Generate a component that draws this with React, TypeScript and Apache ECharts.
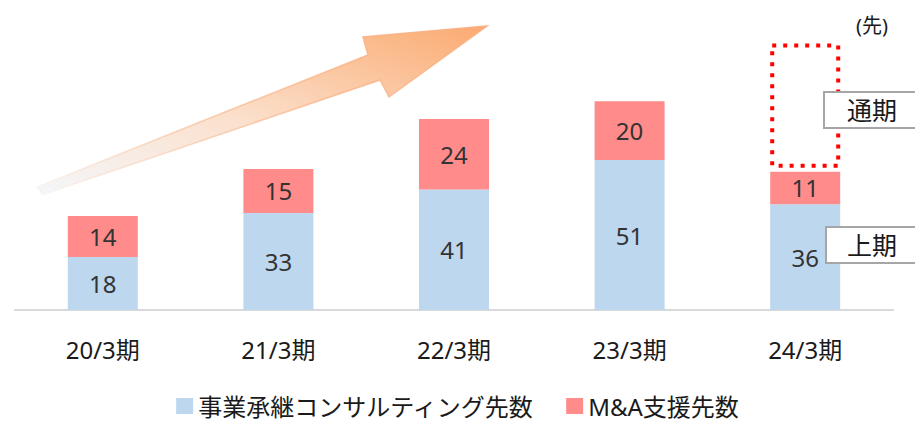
import React, { useEffect, useRef } from "react";
import * as echarts from "echarts";

const categories = ["20/3期", "21/3期", "22/3期", "23/3期", "24/3期"];
const consultingCounts = [18, 33, 41, 51, 36];
const maCounts = [14, 15, 24, 20, 11];
const fullYearForecast: (number | null)[] = [null, null, null, null, 90];
const seriesNames = ["事業承継コンサルティング先数", "M&A支援先数"];
const unitLabel = "(先)";
const fullYearLabel = "通期";
const firstHalfLabel = "上期";

const FONT = "'Noto Sans', 'Noto Sans CJK JP', sans-serif";

export default function App() {
  const ref = useRef<HTMLDivElement>(null);
  useEffect(() => {
    document.body.style.margin = "0";
    if (!ref.current) return;
    const chart = echarts.init(ref.current, undefined, { renderer: "svg" });
    const totals = consultingCounts.map((v, i) => v + maCounts[i]);
    const boxData = fullYearForecast
      .map((v, i) => (v == null ? null : [i, v, totals[i]]))
      .filter((d) => d !== null);

    chart.setOption({
      animation: false,
      textStyle: { fontFamily: FONT },
      grid: { left: 15, right: 22, top: 16, bottom: 115 },
      xAxis: {
        type: "category",
        data: categories,
        axisLine: { lineStyle: { color: "#D9D9D9", width: 2 } },
        axisTick: { show: false },
        axisLabel: { color: "#1a1a1a", fontSize: 24, margin: 27, fontFamily: FONT },
      },
      yAxis: {
        type: "value",
        min: 0,
        max: 100,
        show: false,
        splitLine: { show: false },
      },
      legend: {
        data: seriesNames,
        bottom: 2,
        left: "center",
        icon: "rect",
        itemWidth: 17,
        itemHeight: 16,
        itemGap: 32,
        textStyle: { fontSize: 24, color: "#1a1a1a", fontFamily: FONT },
      },
      series: [
        {
          name: seriesNames[0],
          type: "bar",
          stack: "total",
          data: consultingCounts,
          barWidth: 70,
          itemStyle: { color: "#BDD7EE" },
          label: { show: true, position: "inside", fontSize: 24, color: "#333", fontFamily: FONT },
        },
        {
          name: seriesNames[1],
          type: "bar",
          stack: "total",
          data: maCounts,
          barWidth: 70,
          itemStyle: { color: "#FF8B8B" },
          label: { show: true, position: "inside", fontSize: 24, color: "#333", fontFamily: FONT },
        },
        {
          name: "forecast",
          type: "custom",
          data: boxData,
          z: 5,
          renderItem: (params: any, api: any) => {
            const idx = api.value(0);
            const top = api.coord([idx, api.value(1)]);
            const bottom = api.coord([idx, api.value(2)]);
            const w = 66;
            return {
              type: "rect",
              shape: {
                x: top[0] - w / 2,
                y: top[1],
                width: w,
                height: bottom[1] - top[1] - 6,
              },
              style: {
                fill: "none",
                stroke: "#FF0000",
                lineWidth: 4,
                lineDash: [4, 7],
              },
            };
          },
        },
      ],
      graphic: [
        {
          type: "polygon",
          z: 1,
          shape: {
            points: [
              [37, 187],
              [368, 55],
              [363, 37],
              [487, 26],
              [389, 97],
              [380, 80],
              [42, 195],
            ],
          },
          style: {
            fill: new echarts.graphic.LinearGradient(0, 1, 1, 0, [
              { offset: 0, color: "#F4F7FB" },
              { offset: 0.45, color: "#FBE0CC" },
              { offset: 1, color: "#FBAA70" },
            ]),
            stroke: new echarts.graphic.LinearGradient(0, 1, 1, 0, [
              { offset: 0, color: "rgba(249,180,135,0.05)" },
              { offset: 0.4, color: "rgba(249,180,135,0.6)" },
              { offset: 1, color: "#F9B083" },
            ]),
            lineWidth: 1.5,
          },
        },
        {
          type: "text",
          x: 872,
          y: 25,
          style: {
            text: unitLabel,
            fill: "#1a1a1a",
            font: `20px ${FONT}`,
            align: "center",
            verticalAlign: "middle",
          },
        },
        {
          type: "rect",
          z: 10,
          shape: { x: 824, y: 92, width: 100, height: 36 },
          style: { fill: "#fff", stroke: "#A6A6A6", lineWidth: 2 },
        },
        {
          type: "text",
          z: 11,
          x: 872,
          y: 110,
          style: {
            text: fullYearLabel,
            fill: "#1a1a1a",
            font: `25px ${FONT}`,
            align: "center",
            verticalAlign: "middle",
          },
        },
        {
          type: "rect",
          z: 10,
          shape: { x: 826, y: 227, width: 100, height: 36 },
          style: { fill: "#fff", stroke: "#A6A6A6", lineWidth: 2 },
        },
        {
          type: "text",
          z: 11,
          x: 872,
          y: 245,
          style: {
            text: firstHalfLabel,
            fill: "#1a1a1a",
            font: `25px ${FONT}`,
            align: "center",
            verticalAlign: "middle",
          },
        },
      ],
    });
    return () => chart.dispose();
  }, []);
  return <div ref={ref} style={{ width: 915, height: 425 }} />;
}
